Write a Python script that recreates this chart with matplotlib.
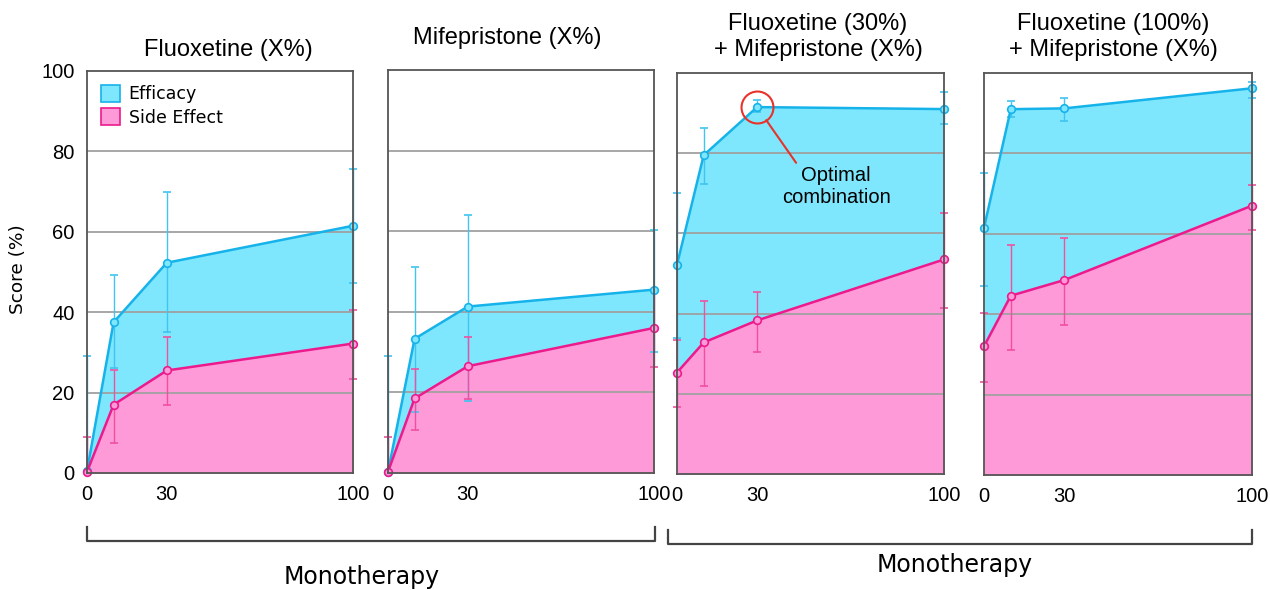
import matplotlib
matplotlib.use("Agg")
import matplotlib.pyplot as plt
from matplotlib.patches import Patch
from matplotlib.lines import Line2D

plt.rcParams['font.family'] = ['DejaVu Sans']
ARIAL = ['Liberation Sans', 'DejaVu Sans']

doses = [0, 10, 30, 100]
dose_ticks = [0, 30, 100]

titles = ["Fluoxetine (X%)", "Mifepristone (X%)",
          "Fluoxetine (30%)\n+ Mifepristone (X%)",
          "Fluoxetine (100%)\n+ Mifepristone (X%)"]

# Efficacy means and error-bar ends
eff_fluox = [0.5, 37.5, 52.3, 61.5]
eff_fluox_lo = [0, 26.0, 35.0, 47.3]
eff_fluox_hi = [29.0, 49.2, 70.0, 75.5]
se_fluox = [0.3, 17.0, 25.5, 32.2]
se_fluox_lo = [0, 7.5, 17.0, 23.5]
se_fluox_hi = [9.0, 25.7, 33.8, 40.5]

eff_mife = [0.3, 33.3, 41.3, 45.5]
eff_mife_lo = [0, 15.1, 17.8, 30.0]
eff_mife_hi = [29.0, 51.0, 64.0, 60.2]
se_mife = [0.3, 18.5, 26.5, 36.0]
se_mife_lo = [0, 10.6, 18.3, 26.2]
se_mife_hi = [9.0, 25.7, 33.8, 45.5]

eff_c30 = [52.2, 79.5, 91.5, 91.0]
eff_c30_lo = [33.8, 72.3, 90.3, 87.2]
eff_c30_hi = [70.0, 86.3, 93.2, 95.2]
se_c30 = [25.3, 32.8, 38.3, 53.5]
se_c30_lo = [16.8, 22.0, 30.4, 41.5]
se_c30_hi = [33.5, 43.2, 45.5, 65.0]

eff_c100 = [61.5, 91.0, 91.2, 96.2]
eff_c100_lo = [47.0, 89.0, 88.0, 93.8]
eff_c100_hi = [75.2, 93.0, 93.8, 97.8]
se_c100 = [32.0, 44.6, 48.5, 67.0]
se_c100_lo = [23.2, 31.2, 37.2, 61.0]
se_c100_hi = [40.3, 57.3, 59.0, 72.2]

panels = [
    (eff_fluox, eff_fluox_lo, eff_fluox_hi, se_fluox, se_fluox_lo, se_fluox_hi),
    (eff_mife, eff_mife_lo, eff_mife_hi, se_mife, se_mife_lo, se_mife_hi),
    (eff_c30, eff_c30_lo, eff_c30_hi, se_c30, se_c30_lo, se_c30_hi),
    (eff_c100, eff_c100_lo, eff_c100_hi, se_c100, se_c100_lo, se_c100_hi),
]

CY_FILL = '#7fe7fd'
CY_LINE = '#16b2ea'
CY_ERR = '#40c4f0'
PK_FILL = '#ff9ad8'
PK_LINE = '#ec1a8c'
PK_ERR = '#f0509f'

W, H = 1270, 590
fig = plt.figure(figsize=(W / 100, H / 100), dpi=100)

# pixel boxes (left, top, right, bottom)
boxes = [(87, 71, 353, 473), (388, 70, 654, 473),
         (677, 73, 944, 474), (984, 73, 1252, 475)]

axes = []
for i, (box, data) in enumerate(zip(boxes, panels)):
    l, t, r, b = box
    ax = fig.add_axes([l / W, 1 - b / H, (r - l) / W, (b - t) / H])
    axes.append(ax)
    eff, eff_lo, eff_hi, se, se_lo, se_hi = data
    ax.fill_between(doses, 0, eff, color=CY_FILL, zorder=1, lw=0)
    ax.fill_between(doses, 0, se, color=PK_FILL, zorder=1.1, lw=0)
    for yv in [20, 40, 60, 80]:
        ax.axhline(yv, color='#a0a0a0', lw=1.3, zorder=1.5)
    ax.errorbar(doses, eff,
                yerr=[[e - lo for e, lo in zip(eff, eff_lo)],
                      [hi - e for e, hi in zip(eff, eff_hi)]],
                fmt='none', ecolor=CY_ERR, elinewidth=1.0, capsize=3,
                capthick=1.2, zorder=2, clip_on=False)
    ax.errorbar(doses, se,
                yerr=[[e - lo for e, lo in zip(se, se_lo)],
                      [hi - e for e, hi in zip(se, se_hi)]],
                fmt='none', ecolor=PK_ERR, elinewidth=1.0, capsize=3,
                capthick=1.2, zorder=2.1, clip_on=False)
    ax.plot(doses, eff, color=CY_LINE, lw=1.8, marker='o', ms=5.5,
            mfc=CY_FILL, mec=CY_LINE, mew=1.2, zorder=3, clip_on=False)
    ax.plot(doses, se, color=PK_LINE, lw=1.8, marker='o', ms=5.5,
            mfc=PK_FILL, mec=PK_LINE, mew=1.2, zorder=3.1, clip_on=False)
    ax.set_xlim(0, 100)
    ax.set_ylim(0, 100)
    ax.set_xticks(dose_ticks)
    ax.set_xticklabels([str(d) for d in dose_ticks], fontsize=14.5, family=ARIAL)
    ax.tick_params(axis='x', length=0, pad=8.5)
    ax.tick_params(axis='y', length=0, pad=9)
    if i == 0:
        ax.set_yticks([0, 20, 40, 60, 80, 100])
        ax.set_yticklabels(['0', '20', '40', '60', '80', '100'], fontsize=14.5,
                           family=ARIAL)
    else:
        ax.set_yticks([])
    for s in ax.spines.values():
        s.set_color('#555555')
        s.set_linewidth(1.3)
        s.set_zorder(4)

fig.text(18 / W, 1 - 269 / H, 'Score (%)', rotation=90, ha='center', va='center',
         fontsize=13.3)

# titles
title_pos = [(228, 50), (507, 38), (818, 37), (1113, 37)]
for (cx, cy), txt in zip(title_pos, titles):
    fig.text(cx / W, 1 - cy / H, txt, ha='center', va='center',
             fontsize=17, linespacing=1.25, family=ARIAL)

# legend
handles = [Patch(facecolor=CY_FILL, edgecolor=CY_LINE, lw=1.2, label='Efficacy'),
           Patch(facecolor=PK_FILL, edgecolor=PK_LINE, lw=1.2, label='Side Effect')]
axes[0].legend(handles=handles, loc='upper left', frameon=False, fontsize=12.5,
               handlelength=1.1, handleheight=1.1, handletextpad=0.5,
               labelspacing=0.3, borderaxespad=0.5, borderpad=0.3)

# annotation on panel 3
ax3 = axes[2]
ax3.plot([doses[2]], [eff_c30[2]], marker='o', ms=23, mfc='none', mec='#e8332a',
         mew=1.5, zorder=5, clip_on=False)
ax3.annotate('Optimal\ncombination', xy=(doses[2], eff_c30[2]),
             xytext=(79, -79), textcoords='offset pixels', ha='center', va='center',
             fontsize=14.5, linespacing=1.2, zorder=6, family=ARIAL,
             arrowprops=dict(arrowstyle='-', color='#e8332a', lw=1.5,
                             shrinkA=0, shrinkB=11.5, relpos=(0.15, 1.0)))

# brackets
def bracket(x0, x1, ytop, ybot):
    xs = [x0 / W, x0 / W, x1 / W, x1 / W]
    ys = [1 - ytop / H, 1 - ybot / H, 1 - ybot / H, 1 - ytop / H]
    fig.add_artist(Line2D(xs, ys, color='#444444', lw=1.6))

bracket(87, 655, 527, 541)
bracket(668, 1252, 530, 544)
fig.text(362 / W, 1 - 577 / H, 'Monotherapy', ha='center', va='center', fontsize=17)
fig.text(955 / W, 1 - 565 / H, 'Monotherapy', ha='center', va='center', fontsize=17)

fig.savefig('out.png', dpi=100)
